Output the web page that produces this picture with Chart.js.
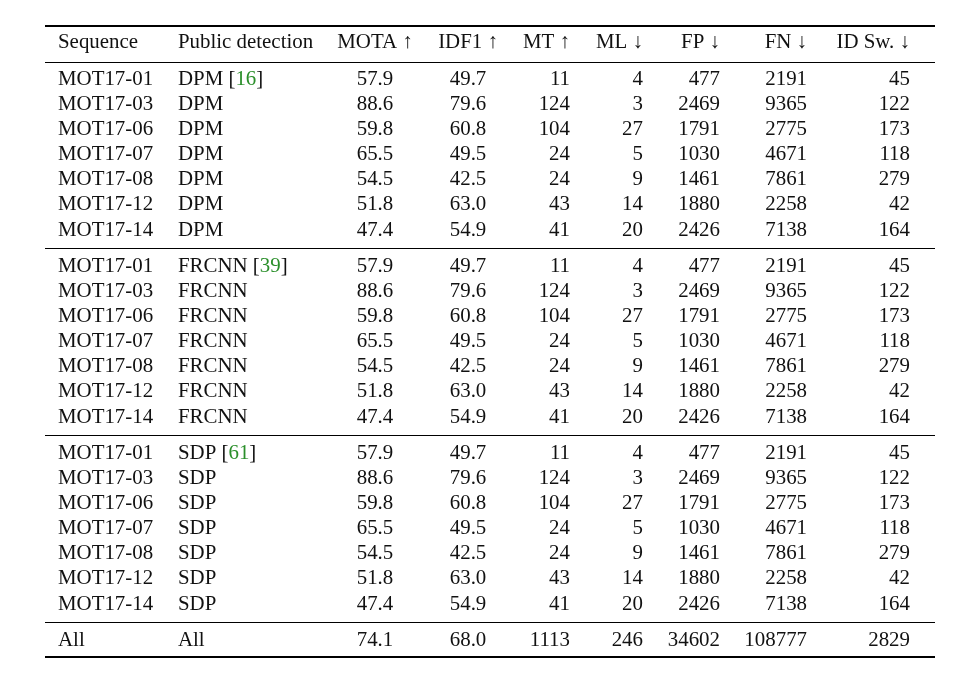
<!DOCTYPE html>
<html>
<head>
<meta charset="utf-8">
<title>MOT17 results</title>
<script src="https://cdn.jsdelivr.net/npm/chart.js@4/dist/chart.umd.min.js"></script>
<style>
  html, body { margin: 0; padding: 0; background: #fff; }
  #wrap { width: 955px; height: 675px; }
</style>
</head>
<body>
<div id="wrap"><canvas id="table" width="955" height="675"></canvas></div>
<script>
// table content
const headers = ['Sequence', 'Public detection', 'MOTA \u2191', 'IDF1 \u2191', 'MT \u2191', 'ML \u2193', 'FP \u2193', 'FN \u2193', 'ID Sw. \u2193'];
const sequences = ['MOT17-01', 'MOT17-03', 'MOT17-06', 'MOT17-07', 'MOT17-08', 'MOT17-12', 'MOT17-14'];
const detectors = ['DPM', 'FRCNN', 'SDP'];
const detectorRefs = ['16', '39', '61'];
const mota = [57.9, 88.6, 59.8, 65.5, 54.5, 51.8, 47.4];
const idf1 = [49.7, 79.6, 60.8, 49.5, 42.5, 63.0, 54.9];
const mt = [11, 124, 104, 24, 24, 43, 41];
const ml = [4, 3, 27, 5, 9, 14, 20];
const fp = [477, 2469, 1791, 1030, 1461, 1880, 2426];
const fn = [2191, 9365, 2775, 4671, 7861, 2258, 7138];
const idsw = [45, 122, 173, 118, 279, 42, 164];
const allRow = ['All', 'All', 74.1, 68.0, 1113, 246, 34602, 108777, 2829];

// column anchors (percent of table width) and alignment
const colX = [1.46, 14.94, 37.08, 47.53, 58.99, 67.19, 75.84, 85.62, 97.19];
const colAlign = ['left', 'left', 'center', 'center', 'right', 'right', 'right', 'right', 'right'];
const decimals = [null, null, 1, 1, 0, 0, 0, 0, 0];

// vertical layout in row units (text baselines)
const firstRow = 1.474;
const groupGap = 0.45;
const topMargin = 0.876;
const ruleDrop = 0.5;
const bottomMargin = 0.44;

function rowY(g, r) { return firstRow + g * (7 + groupGap) + r; }

function fmt(v, c) {
    if (typeof v === 'number' && decimals[c] !== null) return v.toFixed(decimals[c]);
    return String(v);
}

const FONT = '20.9px "Liberation Serif", "Times New Roman", serif';
const INK = '#111';
const CITE = '#2b8f2b';

function drawCell(ctx, text, x, y, align) {
    ctx.textAlign = align;
    ctx.fillText(text, x, y);
}

const tablePlugin = {
    id: 'tablePlugin',
    afterDraw(chart) {
        const ctx = chart.ctx;
        const xs = chart.scales.x, ys = chart.scales.y;
        const area = chart.chartArea;
        ctx.save();
        ctx.font = FONT;
        ctx.fillStyle = INK;
        ctx.textBaseline = 'alphabetic';

        // header
        headers.forEach((h, c) => drawCell(ctx, h, xs.getPixelForValue(colX[c]), ys.getPixelForValue(0), colAlign[c]));

        // groups
        detectors.forEach((det, g) => {
            sequences.forEach((seq, r) => {
                const y = ys.getPixelForValue(rowY(g, r));
                const vals = [seq, det, mota[r], idf1[r], mt[r], ml[r], fp[r], fn[r], idsw[r]];
                vals.forEach((v, c) => {
                    const x = xs.getPixelForValue(colX[c]);
                    if (c === 1 && r === 0) {
                        // detector name with green citation
                        ctx.textAlign = 'left';
                        let cx = x;
                        const parts = [[det + ' [', INK], [detectorRefs[g], CITE], [']', INK]];
                        parts.forEach(([t, col]) => {
                            ctx.fillStyle = col;
                            ctx.fillText(t, cx, y);
                            cx += ctx.measureText(t).width;
                        });
                        ctx.fillStyle = INK;
                    } else {
                        drawCell(ctx, fmt(v, c), x, y, colAlign[c]);
                    }
                });
            });
        });

        // total row
        const yAll = ys.getPixelForValue(rowY(3, 0));
        allRow.forEach((v, c) => drawCell(ctx, fmt(v, c), xs.getPixelForValue(colX[c]), yAll, colAlign[c]));

        // rules
        ctx.strokeStyle = '#000';
        const rule = (val, w) => {
            const y = Math.round(ys.getPixelForValue(val)) + (w % 2 ? 0.5 : 0);
            ctx.lineWidth = w;
            ctx.beginPath();
            ctx.moveTo(area.left, y);
            ctx.lineTo(area.right, y);
            ctx.stroke();
        };
        rule(-topMargin, 2);
        rule(0.55, 1);
        for (let g = 0; g < 3; g++) {
            rule(rowY(g, 6) + ruleDrop, 1);
        }
        rule(rowY(3, 0) + bottomMargin, 2);
        ctx.restore();
    }
};

new Chart(document.getElementById('table'), {
    type: 'scatter',
    data: { datasets: [{ data: [] }] },
    options: {
        responsive: false,
        animation: false,
        events: [],
        layout: { padding: { left: 45, right: 20, top: 26, bottom: 18 } },
        plugins: { legend: { display: false }, tooltip: { enabled: false } },
        scales: {
            x: { type: 'linear', min: 0, max: 100, display: false },
            y: { type: 'linear', min: -topMargin, max: rowY(3, 0) + bottomMargin, reverse: true, display: false }
        }
    },
    plugins: [tablePlugin]
});
</script>
</body>
</html>
